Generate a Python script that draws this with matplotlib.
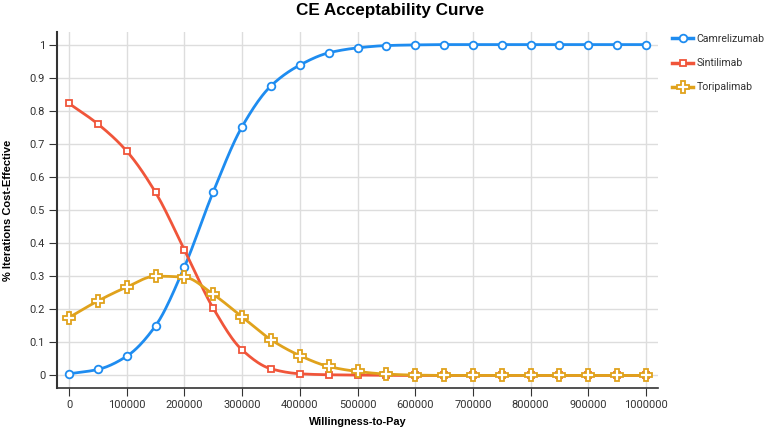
import numpy as np
import matplotlib
matplotlib.use("Agg")
import matplotlib.pyplot as plt

# willingness-to-pay thresholds
wtp = list(range(0, 1000001, 50000))

camrelizumab = [0.005, 0.018, 0.058, 0.150, 0.328, 0.555, 0.752, 0.875, 0.938, 0.975, 0.990,
                0.997, 0.999, 1.0, 1.0, 1.0, 1.0, 1.0, 1.0, 1.0, 1.0]
sintilimab = [0.822, 0.760, 0.678, 0.553, 0.380, 0.203, 0.077, 0.020, 0.005, 0.002, 0.001,
              0.0, 0.0, 0.0, 0.0, 0.0, 0.0, 0.0, 0.0, 0.0, 0.0]
toripalimab = [0.175, 0.225, 0.267, 0.300, 0.297, 0.245, 0.177, 0.108, 0.060, 0.027, 0.012,
               0.004, 0.001, 0.0, 0.0, 0.0, 0.0, 0.0, 0.0, 0.0, 0.0]

x_ticks = list(range(0, 1000001, 100000))
y_ticks = [0, 0.1, 0.2, 0.3, 0.4, 0.5, 0.6, 0.7, 0.8, 0.9, 1]
y_labels = ["0", "0.1", "0.2", "0.3", "0.4", "0.5", "0.6", "0.7", "0.8", "0.9", "1"]


def smooth(x, y, n=20):
    # monotone cubic hermite, only for drawing the curve between points
    x = np.asarray(x, float)
    y = np.asarray(y, float)
    h = np.diff(x)
    d = np.diff(y) / h
    m = np.zeros_like(y)
    m[0], m[-1] = d[0], d[-1]
    for i in range(1, len(y) - 1):
        if d[i - 1] * d[i] <= 0:
            m[i] = 0
        else:
            w1 = 2 * h[i] + h[i - 1]
            w2 = h[i] + 2 * h[i - 1]
            m[i] = (w1 + w2) / (w1 / d[i - 1] + w2 / d[i])
    xs, ys = [], []
    for i in range(len(x) - 1):
        t = np.linspace(0, 1, n, endpoint=False)
        h00 = 2 * t**3 - 3 * t**2 + 1
        h10 = t**3 - 2 * t**2 + t
        h01 = -2 * t**3 + 3 * t**2
        h11 = t**3 - t**2
        xs.extend(x[i] + t * h[i])
        ys.extend(h00 * y[i] + h10 * h[i] * m[i] + h01 * y[i + 1] + h11 * h[i] * m[i + 1])
    xs.append(x[-1])
    ys.append(y[-1])
    return xs, ys


fig = plt.figure(figsize=(7.67, 4.28), dpi=100)
ax = fig.add_axes([57 / 767, 1 - 388 / 428, 601 / 767, 356 / 428])

series = [
    ("Camrelizumab", camrelizumab, "#1e8cf0", "o", 5.5),
    ("Sintilimab", sintilimab, "#f0553a", "s", 5),
    ("Toripalimab", toripalimab, "#e0a21c", "P", 8),
]
handles = []
for name, vals, col, mk, ms in series:
    sx, sy = smooth(wtp, vals)
    ax.plot(sx, sy, color=col, lw=2, zorder=3)
    ax.plot(wtp, vals, ls="none", marker=mk, ms=ms, mfc="white", mec=col, mew=1.3, zorder=4)
    h, = ax.plot([], [], color=col, lw=2.5, marker=mk, ms=ms, mfc="white", mec=col, mew=1.3)
    handles.append((h, name))

ax.set_xlim(-20800, 1020800)
ax.set_ylim(-0.038, 1.038)
ax.set_xticks(x_ticks)
ax.set_xticklabels([str(v) for v in x_ticks])
ax.set_yticks(y_ticks)
ax.set_yticklabels(y_labels)
ax.grid(True, color="#dddddd", lw=1)
ax.set_axisbelow(True)
for s in ["top", "right"]:
    ax.spines[s].set_visible(False)
ax.spines["left"].set_color("#333333")
ax.spines["left"].set_linewidth(1.5)
ax.spines["bottom"].set_color("#333333")
ax.spines["bottom"].set_linewidth(1.2)
ax.tick_params(axis="both", labelsize=8, colors="#333333", length=5.5, pad=3, labelcolor="#333333")
for lab in ax.get_xticklabels() + ax.get_yticklabels():
    lab.set_family("Roboto")

ax.set_xlabel("Willingness-to-Pay", fontsize=7.8, fontweight="bold", family="Liberation Sans", labelpad=5)
ax.set_ylabel("% Iterations Cost-Effective", fontsize=8, fontweight="bold", family="Liberation Sans", labelpad=12)
fig.text(390 / 767, 1 - 10 / 428, "CE Acceptability Curve", ha="center", va="center",
         fontsize=12.3, fontweight="bold", family="Liberation Sans")

leg = fig.legend([h for h, _ in handles], [n for _, n in handles], loc="upper left",
                 bbox_to_anchor=(672 / 767, 1 - 34 / 428), frameon=False, borderpad=0,
                 borderaxespad=0, prop={"family": "Roboto", "size": 7.6}, handlelength=2.0,
                 labelspacing=1.35, handletextpad=0.35)
for t in leg.get_texts():
    t.set_color("#333333")

fig.savefig("out.png", dpi=100)
